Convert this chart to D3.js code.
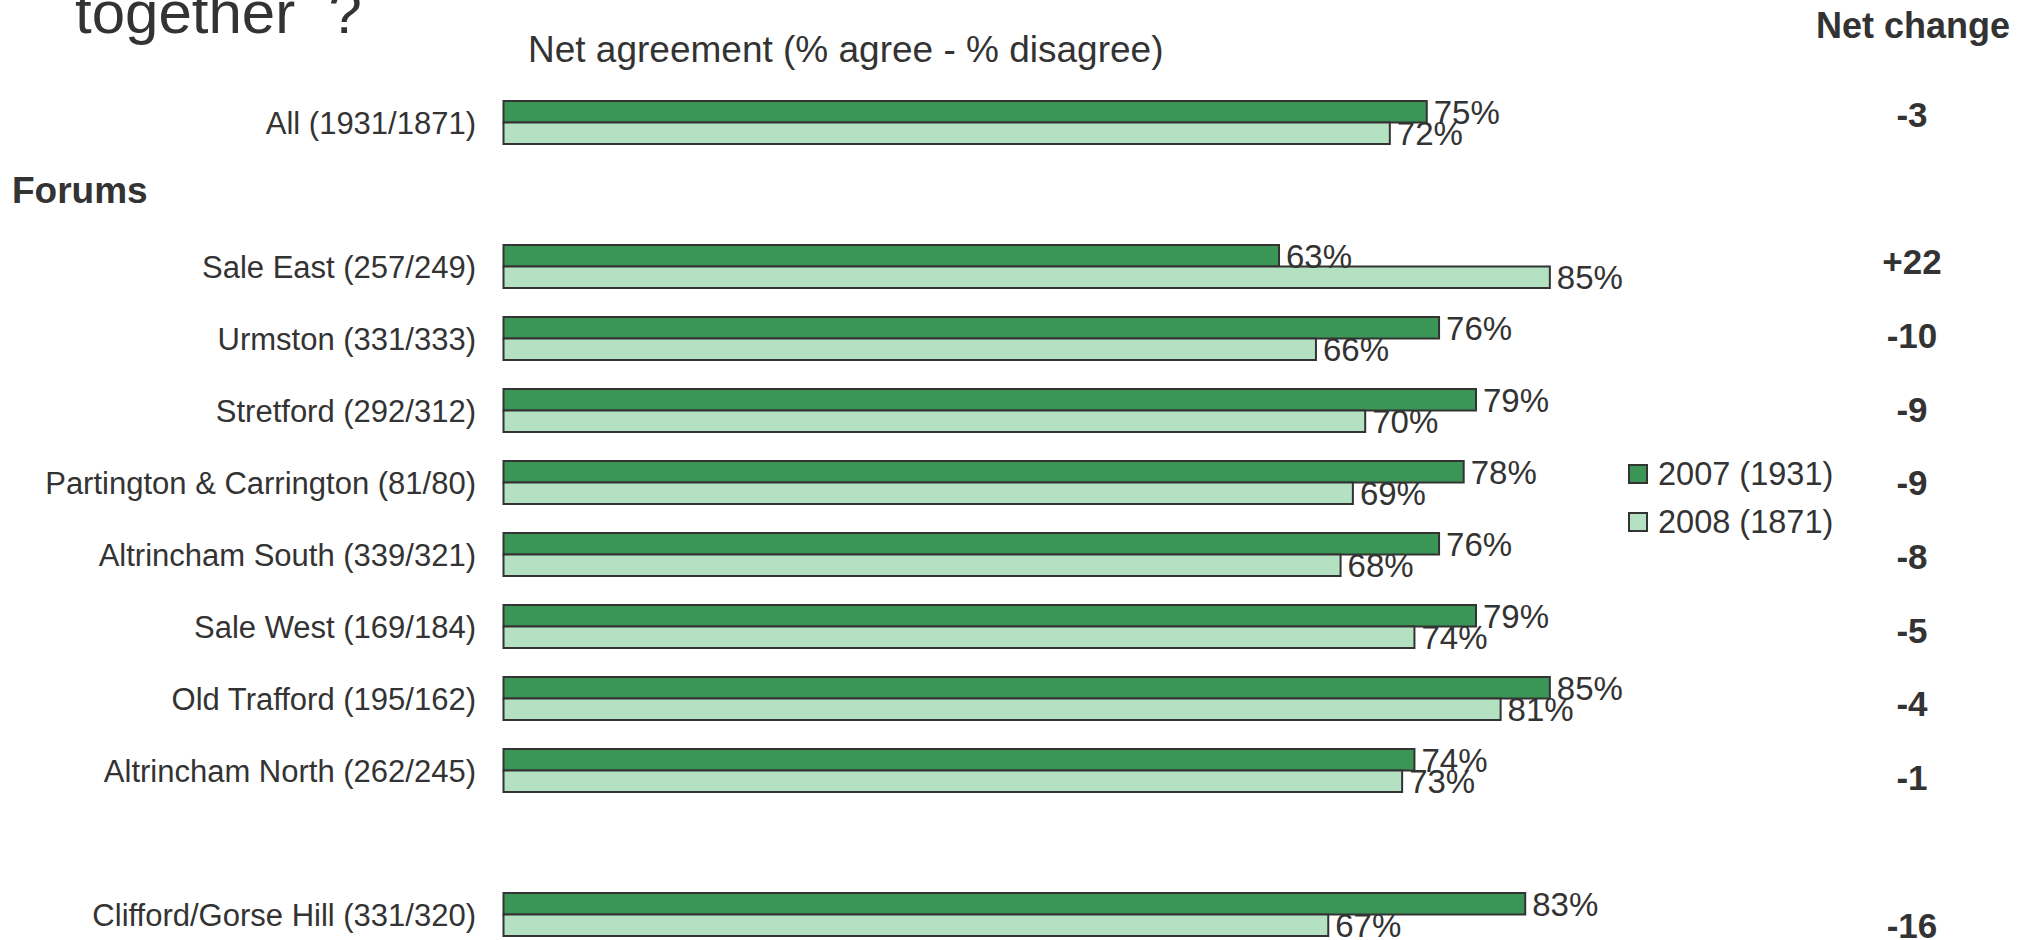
<!DOCTYPE html>
<html>
<head>
<meta charset="utf-8">
<script src="https://cdn.jsdelivr.net/npm/d3@7"></script>
<style>
  html, body { margin: 0; padding: 0; background: #fff; }
  svg text { font-family: "Liberation Sans", Arial, sans-serif; fill: #333; }
</style>
</head>
<body>
<svg id="chart" width="2035" height="940"></svg>
<script>
// ---- data ----
const slots = ["All", "_forums", "Sale East", "Urmston", "Stretford", "Partington & Carrington",
  "Altrincham South", "Sale West", "Old Trafford", "Altrincham North", "_gap", "Clifford/Gorse Hill"];
const categories = ["All", "Sale East", "Urmston", "Stretford", "Partington & Carrington",
  "Altrincham South", "Sale West", "Old Trafford", "Altrincham North", "Clifford/Gorse Hill"];
const labels = ["All (1931/1871)", "Sale East (257/249)", "Urmston (331/333)", "Stretford (292/312)",
  "Partington & Carrington (81/80)", "Altrincham South (339/321)", "Sale West (169/184)",
  "Old Trafford (195/162)", "Altrincham North (262/245)", "Clifford/Gorse Hill (331/320)"];
const values2007 = [75, 63, 76, 79, 78, 76, 79, 85, 74, 83];
const values2008 = [72, 85, 66, 70, 69, 68, 74, 81, 73, 67];
const netChange = ["-3", "+22", "-10", "-9", "-9", "-8", "-5", "-4", "-1", "-16"];
const seriesNames = ["2007 (1931)", "2008 (1871)"];
const seriesKeys = ["y2007", "y2008"];
const colors = ["#3b9656", "#b3e1c1"];

const rows = categories.map((c, i) => ({
  cat: c, label: labels[i], y2007: values2007[i], y2008: values2008[i], net: netChange[i]
}));

// ---- layout ----
const svg = d3.select("#chart");
const x = d3.scaleLinear().domain([0, 100]).range([503.5, 1734.5]);
const y = d3.scaleBand().domain(slots).range([101, 936]).paddingInner(29 / 72).paddingOuter(0);
const ySub = d3.scaleBand().domain(seriesKeys).range([0, y.bandwidth()]).padding(0);
const yNet = d3.scalePoint().domain(slots).range([114, 925]).padding(0);
const color = d3.scaleOrdinal().domain(seriesKeys).range(colors);

// Title fragments
svg.append("text").attr("x", 75).attr("y", 33)
  .attr("font-size", 60).style("white-space", "pre").text("together  ?");
svg.append("text").attr("x", 528).attr("y", 62)
  .attr("font-size", 37).text("Net agreement (% agree - % disagree)");
svg.append("text").attr("x", 1913).attr("y", 38).attr("text-anchor", "middle")
  .attr("font-size", 36).attr("font-weight", "bold").text("Net change");

// Section header
svg.append("text").attr("x", 12).attr("y", y("_forums") + y.bandwidth() / 2 + 8)
  .attr("font-size", 37).attr("font-weight", "bold").text("Forums");

// Bars
const groups = svg.append("g").selectAll("g").data(rows).join("g")
  .attr("transform", d => `translate(0,${y(d.cat)})`);

groups.selectAll("rect").data(d => seriesKeys.map(k => ({ key: k, value: d[k] }))).join("rect")
  .attr("x", x(0))
  .attr("y", d => ySub(d.key))
  .attr("width", d => x(d.value) - x(0))
  .attr("height", ySub.bandwidth())
  .attr("fill", d => color(d.key))
  .attr("stroke", "#333")
  .attr("stroke-width", 2);

groups.selectAll("text.val").data(d => seriesKeys.map(k => ({ key: k, value: d[k] }))).join("text")
  .attr("class", "val")
  .attr("x", d => x(d.value) + 7)
  .attr("y", d => ySub(d.key) + ySub.bandwidth() / 2)
  .attr("dy", "0.36em")
  .attr("font-size", 33)
  .text(d => d.value + "%");

// Category labels
svg.append("g").selectAll("text").data(rows).join("text")
  .attr("x", 476)
  .attr("y", d => y(d.cat) + y.bandwidth() / 2)
  .attr("dy", "0.36em")
  .attr("text-anchor", "end")
  .attr("font-size", 31)
  .text(d => d.label);

// Net change values
svg.append("g").selectAll("text").data(rows).join("text")
  .attr("x", 1912)
  .attr("y", d => yNet(d.cat))
  .attr("dy", "0.36em")
  .attr("text-anchor", "middle")
  .attr("font-size", 35)
  .attr("font-weight", "bold")
  .text(d => d.net);

// Legend
const legend = svg.append("g").selectAll("g").data(seriesKeys).join("g")
  .attr("transform", (d, i) => `translate(1629,${465 + i * 48})`);
legend.append("rect").attr("width", 18).attr("height", 18)
  .attr("fill", d => color(d)).attr("stroke", "#333").attr("stroke-width", 2);
legend.append("text").attr("x", 29).attr("y", 20)
  .attr("font-size", 32.5).text((d, i) => seriesNames[i]);
</script>
</body>
</html>
